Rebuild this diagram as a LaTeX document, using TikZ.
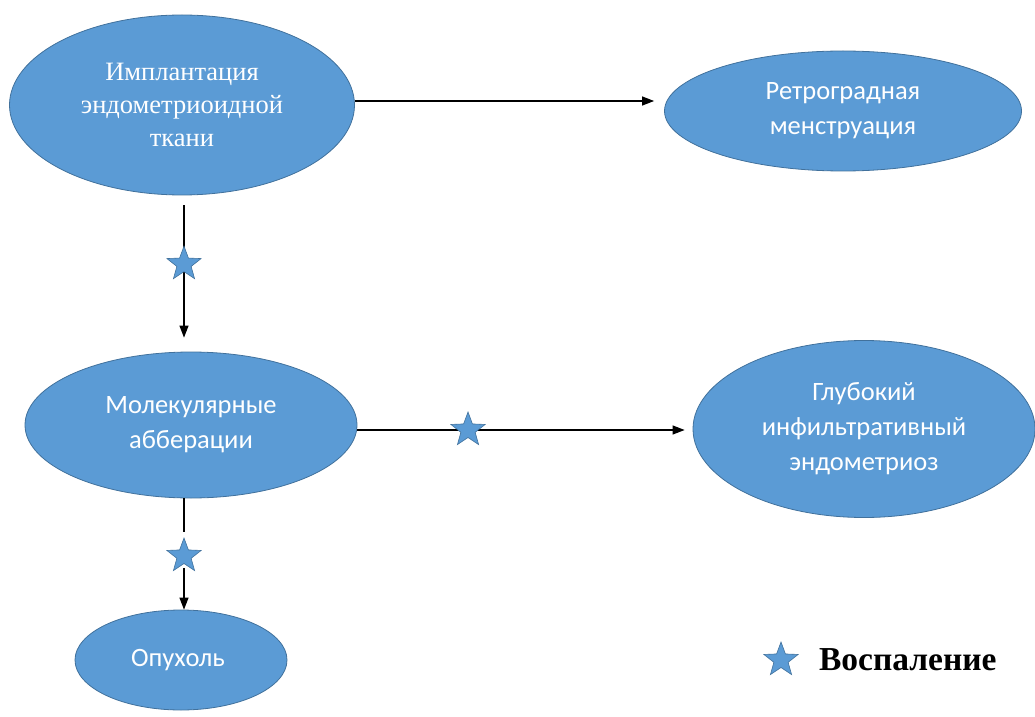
\documentclass[tikz,border=0pt]{standalone}
\usepackage{fontspec}
\setmainfont{Liberation Serif}
\newfontfamily\calibri{Carlito}
\usetikzlibrary{positioning,shapes.geometric,arrows.meta}

\definecolor{officeblue}{HTML}{5B9BD5}
\definecolor{officeedge}{HTML}{41719C}

\begin{document}
\begin{tikzpicture}[
    x=1pt,y=1pt,
    blob/.style={ellipse,draw=officeedge,line width=0.8pt,fill=officeblue,text=white,align=center,inner sep=0pt,minimum width=#1},
    sans/.style={font=\calibri\fontsize{26.5}{35}\selectfont},
    infl/.style={star,star points=5,star point ratio=2.4,draw=officeedge,line width=0.6pt,fill=officeblue,minimum size=36pt,inner sep=0pt},
    conn/.style={line width=1.2pt,-{Triangle[length=12pt,width=9pt]}},
  ]
\useasboundingbox (0,0) rectangle (1035,716);

\node (implant) [blob=345pt,minimum height=180pt,font=\fontsize{26.5}{33}\selectfont] at (182,611) {
  Имплантация \\ эндометриоидной \\ ткани
};
\node (retro) [blob=357pt,minimum height=120pt,sans] at (843,605) {
  Ретроградная \\ менструация
};
\node (molec) [blob=332pt,minimum height=146pt,sans] at (191,291) {
  Молекулярные \\ абберации
};
\node (deep) [blob=342pt,minimum height=177pt,sans] at (864,287) {
  Глубокий \\ инфильтративный \\ эндометриоз
};
\node (tumor) [blob=212pt,minimum height=100pt,sans] at (181,56) {
  Опухоль
};

% connectors
\draw [conn,shorten >=10pt] (implant.east |- 0,615) -- (retro.west |- 0,615);
\draw [conn,shorten <=10pt,shorten >=14pt] (implant.south -| 184,0) -- (molec.north -| 184,0)
  node (star one) [infl,pos=0.44] {};
\draw [conn,shorten >=8pt] (molec.east |- 0,286) -- (deep.west |- 0,286)
  node (star two) [infl,pos=0.33] {};
\coordinate (star three pos) at (184,160);
\draw [line width=1.2pt,shorten >=24pt] (molec.south -| star three pos) -- (star three pos);
\draw [conn,shorten <=12pt] (star three pos) -- (tumor.north -| star three pos);
\node (star three) [infl] at (star three pos) {};

% legend
\node (legend star) [infl] at (781,56) {};
\node (legend text) [right=24pt of legend star,font=\bfseries\fontsize{33.5}{36}\selectfont] {Воспаление};
\end{tikzpicture}
\end{document}
